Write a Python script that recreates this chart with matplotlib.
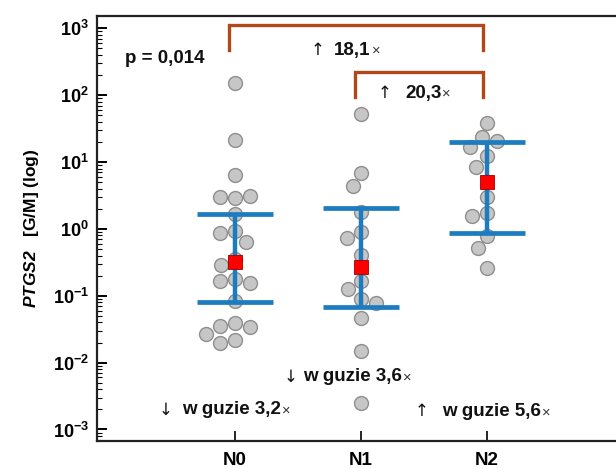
"""PTGS2 expression per group (N0/N1/N2): log-scale swarm with mean and error bars."""
import numpy as np
import matplotlib
matplotlib.use('Agg')
import matplotlib.pyplot as plt
from matplotlib.ticker import FuncFormatter, NullFormatter

plt.rcParams['font.family'] = ['Liberation Sans', 'DejaVu Sans']
plt.rcParams['mathtext.fontset'] = 'custom'
plt.rcParams['mathtext.rm'] = 'Liberation Sans'
plt.rcParams['mathtext.bf'] = 'Liberation Sans:bold'
plt.rcParams['mathtext.bfit'] = 'Liberation Sans:italic:bold'
plt.rcParams['mathtext.it'] = 'Liberation Sans:italic'

groups = ['N0', 'N1', 'N2']
n0 = [153, 21.3, 6.4, 2.95, 3.0, 3.1, 1.67, 0.94, 0.88, 0.64, 0.355, 0.29,
      0.176, 0.168, 0.158, 0.0835, 0.039, 0.035, 0.034, 0.027, 0.022, 0.020]
n1 = [52, 6.9, 4.4, 1.8, 0.91, 0.72, 0.41, 0.168, 0.125, 0.091, 0.077,
      0.047, 0.015, 0.00247]
n2 = [38.7, 23.4, 20.8, 16.6, 12.3, 8.5, 2.97, 1.71, 1.56, 0.78, 0.51, 0.257]
means = [0.316, 0.267, 4.98]
lower = [0.080, 0.0687, 0.877]
upper = [1.67, 2.03, 19.7]
decades = list(range(-4, 4))

p_text = 'p = 0,014'
brackets = [(0, 2, 473, 1120), (1, 2, 93, 221)]
folds = ['18,1', '20,3']
notes = [('\u2193', 'w guzie 3,2', 0.00196), ('\u2193', 'w guzie 3,6', 0.0061),
         ('\u2191', 'w guzie 5,6', 0.00186)]

GRAY = '#c6c6c6'
GRAY_EDGE = '#8e8e8e'
BLUE = '#1d7cc0'
BROWN = '#b0481c'
RED = '#ff0000'
YLIM = (6.73e-4, 1528)

fig = plt.figure(figsize=(6.16, 4.68), dpi=100)
ax = fig.add_axes([0.1575, 0.0577, 0.8815, 0.908])
ax.set_yscale('log')
ax.set_xlim(-1.095, 3.214)
ax.set_ylim(*YLIM)


def swarm(values, d=15.5):
    """Greedy beeswarm in pixel space, returns x offsets in data units."""
    py = ax.transData.transform(np.c_[np.zeros(len(values)), values])[:, 1]
    x0 = ax.transData.transform((0, 1))[0]
    placed = []
    offs = []
    for y in py:
        cands = [0.0]
        near = []
        for (px, qy) in placed:
            dy = abs(y - qy)
            if dy < d:
                w = np.sqrt(d * d - dy * dy)
                near.append((px, w))
                cands += [px - w, px + w]
        cands = sorted(set(cands), key=lambda c: (abs(c), c))
        for c in cands:
            if all(abs(c - px) >= w - 1e-6 for px, w in near):
                break
        placed.append((c, y))
        offs.append(c)
    x1 = ax.transData.inverted().transform((x0 + 1, py[0]))[0]
    return np.array(offs) * x1


for i, vals in enumerate([n0, n1, n2]):
    xs = i + swarm(vals)
    ax.scatter(xs, vals, s=100, color=GRAY, edgecolor=GRAY_EDGE, linewidth=1.0, zorder=2)
    ax.vlines(i, lower[i], upper[i], color=BLUE, lw=3.2, zorder=3)
    ax.hlines([lower[i], upper[i]], i - 0.3, i + 0.3, color=BLUE, lw=3.4, zorder=3)
    ax.plot(i, means[i], 's', ms=10.5, color=RED, mec='#a00000', mew=0.6, zorder=4)

BOLD = dict(fontsize=13.5, fontweight='bold', color='#111111')
ARROW = dict(fontsize=12, color='#111111', family='DejaVu Sans')
TIMES = dict(fontsize=10.5, color='#333333')


def fold_label(x, y, arrow, s, gap):
    """Bold text with a thin arrow before it and a small × after it."""
    t = ax.text(x, y, s, va='center', ha='left', **BOLD)
    ax.annotate(arrow, xy=(0, 0.5), xycoords=t, xytext=(-gap, 0), textcoords='offset pixels',
                va='center', ha='right', **ARROW)
    ax.annotate('\u00d7', xy=(1, 0.45), xycoords=t, xytext=(1, 0), textcoords='offset pixels',
                va='center', ha='left', **TIMES)


for g0, g1, yleg, ytop in brackets:
    xa, xb = g0 - 0.05, g1 - 0.03
    ax.plot([xa, xa, xb, xb], [yleg, ytop, ytop, yleg], color=BROWN, lw=2.4,
            solid_joinstyle='miter', clip_on=False, zorder=3)

fold_label(0.786, 472, '\u2191', folds[0], 10)
fold_label(1.349, 107, '\u2191', folds[1], 14)
ax.text(-0.873, 359, p_text, va='center', ha='left', **BOLD)

note_x = [-0.421, 0.54, 1.643]
note_gap = [9, 6, 14]
for (arr, s, y), x, g in zip(notes, note_x, note_gap):
    fold_label(x, y, arr, s, g)

ax.set_xticks(range(len(groups)))
ax.set_xticklabels(groups, fontsize=13.5, fontweight='bold')
# explicit ticks so nothing lands outside the visible range
ax.set_yticks([10.0 ** k for k in decades[1:]])
minor = [m * 10.0 ** k for k in decades[:-1] for m in range(2, 10)]
ax.set_yticks([v for v in minor if YLIM[0] <= v <= YLIM[1]], minor=True)
ax.yaxis.set_major_formatter(FuncFormatter(lambda v, _: r'$\mathbf{10^{%d}}$' % round(np.log10(v))))
ax.yaxis.set_minor_formatter(NullFormatter())
ax.tick_params(axis='y', which='major', direction='in', length=7, width=1.4, labelsize=13, pad=6)
ax.tick_params(axis='y', which='minor', direction='in', length=3.5, width=0.8)
ax.tick_params(axis='x', direction='in', length=7, width=1.2, pad=8)
for side in ['left', 'bottom', 'top']:
    ax.spines[side].set_linewidth(1.6)
    ax.spines[side].set_color('#222222')
ax.spines['right'].set_visible(False)

ax.set_ylabel(r'$\mathbfit{PTGS2}$   [G/M] (log)', fontsize=12.5, fontweight='bold', labelpad=8)

fig.savefig('out.png', dpi=100)
